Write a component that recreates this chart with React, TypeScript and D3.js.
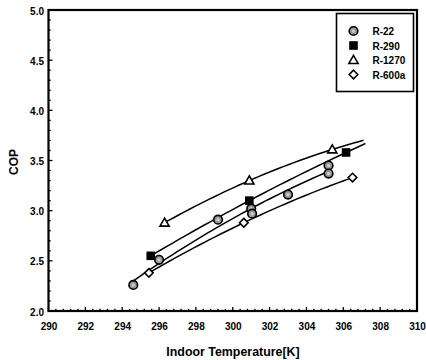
import React from "react";
import * as d3 from "d3";

const W = 426, H = 360;
const M = { left: 48.5, right: 9, top: 10, bottom: 49 };

const xTicks = [290, 292, 294, 296, 298, 300, 302, 304, 306, 308, 310];
const yTicks = [2.0, 2.5, 3.0, 3.5, 4.0, 4.5, 5.0];

const seriesNames = ["R-22", "R-290", "R-1270", "R-600a"];

const r22: [number, number][] = [
  [294.6, 2.26], [296.0, 2.51], [299.2, 2.91], [301.0, 3.02],
  [301.05, 2.97], [303.0, 3.16], [305.2, 3.45], [305.2, 3.37],
];
const r290: [number, number][] = [[295.55, 2.55], [300.9, 3.10], [306.15, 3.58]];
const r1270: [number, number][] = [[296.3, 2.88], [300.9, 3.30], [305.4, 3.61]];
const r600a: [number, number][] = [[295.45, 2.38], [300.6, 2.88], [306.5, 3.33]];

// extent of each fitted curve [start, end] in K
const fitRanges: [number, number][] = [[294.6, 305.2], [295.55, 307.2], [296.3, 307.1], [295.45, 306.5]];

const seriesData = [r22, r290, r1270, r600a];

function quadFit(pts: [number, number][]) {
  const x0 = d3.mean(pts, (p) => p[0]) as number;
  let s = [0, 0, 0, 0, 0], t = [0, 0, 0];
  pts.forEach(([xr, y]) => {
    const x = xr - x0;
    for (let k = 0; k < 5; k++) s[k] += Math.pow(x, k);
    for (let k = 0; k < 3; k++) t[k] += y * Math.pow(x, k);
  });
  const A = [[s[0], s[1], s[2]], [s[1], s[2], s[3]], [s[2], s[3], s[4]]];
  const b = [...t];
  // gaussian elimination
  for (let i = 0; i < 3; i++) {
    for (let j = i + 1; j < 3; j++) {
      const f = A[j][i] / A[i][i];
      for (let k = i; k < 3; k++) A[j][k] -= f * A[i][k];
      b[j] -= f * b[i];
    }
  }
  const c = [0, 0, 0];
  for (let i = 2; i >= 0; i--) {
    let v = b[i];
    for (let k = i + 1; k < 3; k++) v -= A[i][k] * c[k];
    c[i] = v / A[i][i];
  }
  return (xr: number) => { const x = xr - x0; return c[0] + c[1] * x + c[2] * x * x; };
}

export default function App() {
  const x = d3.scaleLinear().domain([290, 310]).range([M.left, W - M.right]);
  const y = d3.scaleLinear().domain([2, 5]).range([H - M.bottom, M.top]);
  const font = "'Liberation Sans', Arial, sans-serif";

  const xMinor = d3.range(290, 310.001, 0.4);
  const yMinor = d3.range(2, 5.001, 0.1);

  const line = d3.line<[number, number]>().x((d) => x(d[0])).y((d) => y(d[1])).curve(d3.curveLinear);

  const curves = seriesData.map((pts, i) => {
    const f = quadFit(pts);
    const [a, b] = fitRanges[i];
    const samples: [number, number][] = d3.range(0, 41).map((k) => {
      const xv = a + ((b - a) * k) / 40;
      return [xv, f(xv)];
    });
    return line(samples) as string;
  });

  const marker = (i: number, cx: number, cy: number, key: string) => {
    if (i === 0)
      return (
        <g key={key}>
          <circle cx={cx} cy={cy} r={4.3} fill="#9a9a9a" stroke="#000" strokeWidth={1.6} />
          <circle cx={cx} cy={cy} r={1.6} fill="#cfcfcf" />
        </g>
      );
    if (i === 1)
      return <rect key={key} x={cx - 4.3} y={cy - 4.3} width={8.6} height={8.6} fill="#000" />;
    if (i === 2) {
      const s = 4.6;
      return (
        <path key={key} d={`M${cx},${cy - s}L${cx + s},${cy + s * 0.75}L${cx - s},${cy + s * 0.75}Z`}
          fill="#fff" stroke="#000" strokeWidth={1.6} />
      );
    }
    const s = 4.3;
    return (
      <path key={key} d={`M${cx},${cy - s}L${cx + s},${cy}L${cx},${cy + s}L${cx - s},${cy}Z`}
        fill="#fff" stroke="#000" strokeWidth={1.6} />
    );
  };

  const legendRows = [31, 45.5, 60, 74.5];

  return (
    <svg width={W} height={H} style={{ position: "absolute", left: 0, top: 0, background: "#fff" }}
      fontFamily={font}>
      <rect x={0} y={0} width={W} height={H} fill="#fff" />
      {/* minor/major ticks, inward */}
      {xMinor.map((v, i) => {
        const major = i % 5 === 0;
        return <line key={"xm" + i} x1={x(v)} x2={x(v)} y1={y(2)} y2={y(2) - (major ? 4 : 2.2)} stroke="#000" strokeWidth={1.3} />;
      })}
      {yMinor.map((v, i) => {
        const major = i % 5 === 0;
        return <line key={"ym" + i} x1={x(290)} x2={x(290) + (major ? 4 : 2.2)} y1={y(v)} y2={y(v)} stroke="#000" strokeWidth={1.3} />;
      })}
      {/* frame */}
      <rect x={x(290)} y={y(5)} width={x(310) - x(290)} height={y(2) - y(5)} fill="none" stroke="#000" strokeWidth={2.2} />
      {/* tick labels */}
      {xTicks.map((v) => (
        <text key={"xt" + v} x={x(v) + 0.5} y={y(2) + 18.5} textAnchor="middle" fontSize={10} fontWeight="bold">{v}</text>
      ))}
      {yTicks.map((v) => (
        <text key={"yt" + v} x={x(290) - 4.5} y={y(v) + 4.5} textAnchor="end" fontSize={10} fontWeight="bold">{v.toFixed(1)}</text>
      ))}
      {/* axis titles */}
      <text x={233} y={356} textAnchor="middle" fontSize={12.4} fontWeight="bold">Indoor Temperature[K]</text>
      <text transform={`translate(17.5,162) rotate(-90)`} textAnchor="middle" fontSize={12} fontWeight="bold">COP</text>
      {/* curves */}
      {curves.map((d, i) => (
        <path key={"c" + i} d={d} fill="none" stroke="#000" strokeWidth={1.5} />
      ))}
      {/* markers */}
      {seriesData.map((pts, i) => pts.map((p, j) => marker(i, x(p[0]), y(p[1]), `m${i}-${j}`)))}
      {/* legend */}
      <rect x={336.5} y={13.5} width={77} height={78} fill="#fff" stroke="#000" strokeWidth={1.6} />
      {seriesNames.map((n, i) => (
        <g key={"lg" + i}>
          {marker(i, 353.5, legendRows[i], "lm" + i)}
          <text x={372.5} y={legendRows[i] + 4} fontSize={10} fontWeight="bold">{n}</text>
        </g>
      ))}
    </svg>
  );
}
